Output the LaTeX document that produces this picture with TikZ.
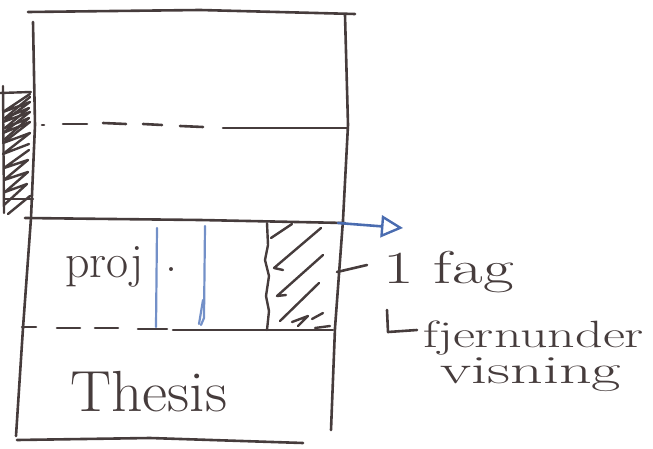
\documentclass[tikz,border=0pt]{standalone}
\usetikzlibrary{arrows.meta}
\definecolor{ink}{HTML}{463C3C}
\definecolor{bink}{HTML}{4A6CB0}
\definecolor{lbink}{HTML}{7390C8}
\begin{document}
\begin{tikzpicture}[x=1pt,y=-1pt,
  pen/.style={draw=ink,line width=2.6pt,line cap=round,line join=round},
  hatchpen/.style={draw=ink,line width=2.4pt,line cap=round,line join=round},
  bluepen/.style={draw=lbink,line width=2.2pt,line cap=round,line join=round},
  hand/.style={text=ink,inner sep=0pt,anchor=base west},
  label/.style={text=ink,inner sep=0pt,anchor=base west}]
\useasboundingbox (0,0) rectangle (653,449);
% outer frame
\coordinate (tl) at (28,12);
\coordinate (tr) at (355,14);
\draw[pen] (tl) -- (200,10) -- (tr);
\draw[pen] (33,22) -- (35,125) -- (31,218) -- (23,328) -- (16,436);
\draw[pen] (345,15) -- (348,125) -- (343,220) -- (335,328) -- (331,430);
\draw[pen] (17,440) -- (150,438) -- (303,443);
% upper dashed divider
\draw[pen] (42,125) -- (44,125);
\draw[pen] (63,124) -- (87,124);
\draw[pen] (103,123) -- (126,124);
\draw[pen] (143,124) -- (162,125);
\draw[pen] (180,126) -- (203,127);
\draw[pen] (223,128) -- (348,128);
% middle solid divider with blue arrow
\coordinate (ml) at (25,218);
\coordinate (mr) at (338,223);
\coordinate (arrowend) at (403,228);
\draw[pen] (ml) -- (200,220) -- (345,223);
\draw[draw=bink,line width=2.6pt,line cap=round,-{Triangle[open,length=22pt,width=22pt,line width=2.4pt]}] (mr) -- (arrowend);
% lower dashed divider
\draw[pen] (22,327) -- (36,327);
\draw[pen] (57,328) -- (80,328);
\draw[pen] (95,328) -- (118,328);
\draw[pen] (138,329) -- (167,329);
\draw[pen] (173,330) -- (333,330);
% blue vertical lines
\draw[bluepen] (157,228) -- (156,327);
\draw[bluepen] (205,226) -- (204,318) -- (201,325);
\draw[bluepen] (203,300) -- (199,324);
% right hatched strip
\draw[hatchpen] (267,223) -- (268,245) -- (265,260) -- (269,276) -- (266,296) -- (269,311) -- (267,330);
\draw[hatchpen] (271,238) -- (292,224);
\draw[hatchpen] (321,228) -- (274,268) -- (283,270);
\draw[hatchpen] (323,255) -- (277,296) -- (286,295);
\draw[hatchpen] (319,283) -- (280,321);
\draw[hatchpen] (292,322) -- (308,316) -- (298,326);
\draw[hatchpen] (312,319) -- (323,313);
\draw[hatchpen] (315,328) -- (330,326);
% tick to right label
\coordinate (ticka) at (337,272);
\coordinate (tickb) at (367,265);
\draw[pen] (ticka) -- (tickb);
% left hatched strip
\draw[hatchpen] (3,86) -- (4,213);
\draw[hatchpen] (0,93) -- (31,92);
\draw[hatchpen] (5,199) -- (33,199);
\draw[hatchpen] (30,94) -- (3,112) -- (30,102) -- (3,122) -- (30,112) -- (3,133) -- (30,122) -- (3,143) -- (30,133) -- (3,154) -- (29,144);
\draw[hatchpen] (30,97) -- (5,118) -- (29,108) -- (5,128) -- (29,118) -- (5,139);
\draw[hatchpen] (29,150) -- (4,168) -- (28,160) -- (4,180) -- (28,172) -- (5,192) -- (27,184) -- (4,205);
\draw[hatchpen] (30,196) -- (8,214);
% texts
\node[label,font=\fontsize{58}{62}\selectfont,xscale=1.06] (thesis) at (70,411) {Thesis};
\node[label,font=\fontsize{48}{52}\selectfont] (proj) at (65,277) {proj};
\node[label,font=\fontsize{48}{52}\selectfont] (dot) at (165,271) {.};
\node[hand,font=\fontsize{46}{50}\selectfont,xscale=1.45] (fag) at (383,283) {1 fag};
\node[hand,font=\fontsize{38}{42}\selectfont,xscale=1.42] (fjern) at (423,347) {fjernunder};
\node[hand,font=\fontsize{40}{44}\selectfont,xscale=1.6] (vis) at (440,383) {visning};
% corner mark before sub-item
\coordinate (la) at (387,310);
\coordinate (lb) at (388,332);
\coordinate (lc) at (417,330);
\draw[pen] (la) -- (lb) -- (lc);
\end{tikzpicture}
\end{document}
